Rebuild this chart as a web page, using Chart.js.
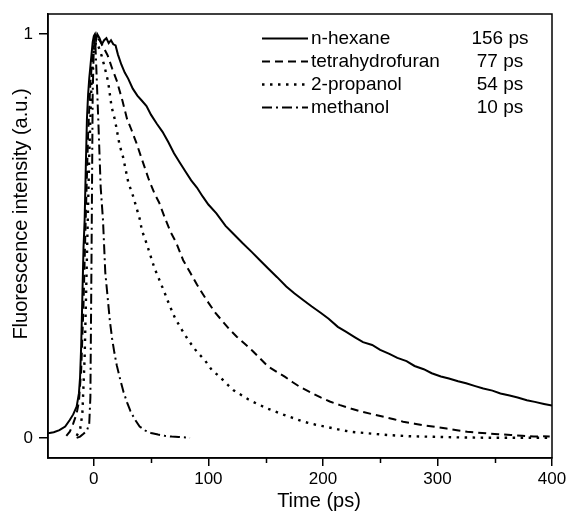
<!DOCTYPE html>
<html>
<head>
<meta charset="utf-8">
<script src="https://cdn.jsdelivr.net/npm/chart.js@4.4.1/dist/chart.umd.min.js"></script>
<style>
  html, body { margin: 0; padding: 0; background: #fff; }
  #wrap { width: 567px; height: 511px; }
</style>
</head>
<body>
<div id="wrap"><canvas id="chart" width="567" height="511"></canvas></div>
<script>
// Series values (time in ps, normalised intensity)
const hexaneT = [-40, -35, -30, -25, -21, -18, -15, -13, -12, -11, -10, -9, -8, -7, -6, -5, -4, -3, -2, -1, 0, 1, 2, 3, 5, 7, 9, 11, 13, 15, 17, 19, 21, 24, 27, 30, 34, 38, 42, 46, 50, 55, 60, 65, 70, 75, 80, 85, 90, 95, 100, 107, 115, 122, 130, 138, 145, 152, 160, 168, 175, 183, 190, 198, 205, 213, 220, 228, 235, 243, 250, 258, 265, 273, 280, 288, 295, 303, 310, 318, 325, 333, 340, 348, 355, 363, 370, 378, 385, 393, 400];
const hexaneI = [0.011, 0.014, 0.019, 0.028, 0.044, 0.058, 0.077, 0.11, 0.15, 0.23, 0.35, 0.47, 0.54, 0.67, 0.79, 0.85, 0.89, 0.92, 0.95, 0.98, 0.995, 1.0, 0.985, 1.0, 0.99, 0.975, 0.985, 0.99, 0.978, 0.985, 0.975, 0.972, 0.95, 0.925, 0.905, 0.89, 0.865, 0.848, 0.835, 0.822, 0.8, 0.778, 0.758, 0.733, 0.705, 0.682, 0.66, 0.638, 0.62, 0.598, 0.578, 0.556, 0.525, 0.505, 0.482, 0.46, 0.44, 0.42, 0.398, 0.375, 0.358, 0.341, 0.326, 0.31, 0.295, 0.275, 0.263, 0.249, 0.237, 0.23, 0.218, 0.208, 0.198, 0.19, 0.178, 0.17, 0.16, 0.152, 0.147, 0.14, 0.135, 0.128, 0.122, 0.117, 0.11, 0.105, 0.1, 0.093, 0.089, 0.084, 0.08];

const thfT = [-24, -21, -18, -15, -13, -11, -9, -7, -5, -3, -1, 1, 3, 5, 8, 12, 16, 20, 25, 29, 33, 37, 42, 48, 53, 57, 62, 67, 72, 78, 84, 90, 95, 100, 106, 112, 118, 125, 131, 138, 145, 152, 160, 167, 174, 180, 189, 198, 206, 215, 225, 235, 244, 253, 262, 270, 280, 288, 298, 308, 317, 326, 335, 343, 353, 364, 374, 384, 392, 398];
const thfI = [0.005, 0.015, 0.035, 0.06, 0.09, 0.17, 0.33, 0.55, 0.75, 0.88, 0.95, 0.985, 0.99, 0.985, 0.97, 0.948, 0.915, 0.885, 0.835, 0.79, 0.762, 0.732, 0.69, 0.64, 0.605, 0.583, 0.545, 0.51, 0.483, 0.44, 0.41, 0.38, 0.357, 0.335, 0.31, 0.29, 0.27, 0.25, 0.235, 0.217, 0.197, 0.177, 0.163, 0.151, 0.137, 0.126, 0.113, 0.1, 0.09, 0.081, 0.072, 0.064, 0.058, 0.052, 0.046, 0.04, 0.035, 0.031, 0.027, 0.023, 0.019, 0.015, 0.013, 0.011, 0.009, 0.007, 0.005, 0.003, 0.004, 0.003];

const propanolT = [-15, -12, -10, -8, -6, -4, -2, 0, 2, 4, 7, 10, 12.5, 15.5, 18.5, 22.5, 25.5, 30, 34.5, 40, 42, 46, 53, 58, 62, 66, 71, 77, 82.5, 90, 97, 103, 110, 117, 122, 135, 142, 152, 163, 173, 183, 193, 203, 213, 224, 240, 256, 275, 297, 320, 350, 380, 400];
const propanolI = [0.005, 0.02, 0.06, 0.2, 0.45, 0.7, 0.88, 0.96, 0.98, 0.97, 0.945, 0.912, 0.882, 0.82, 0.787, 0.725, 0.696, 0.634, 0.597, 0.543, 0.514, 0.482, 0.42, 0.386, 0.358, 0.329, 0.296, 0.267, 0.242, 0.213, 0.192, 0.168, 0.151, 0.131, 0.118, 0.095, 0.085, 0.072, 0.06, 0.05, 0.04, 0.033, 0.027, 0.021, 0.015, 0.011, 0.007, 0.004, 0.0025, 0.001, 0.0, 0.0, 0.0];

const methanolT = [-15, -12, -9, -6, -4, -3, -2, -1, 0, 1, 2, 4, 6, 8, 10, 12, 14, 16, 18, 20, 23, 26, 29, 32, 36, 40, 45, 50, 56, 62, 68, 74, 80, 84];
const methanolI = [0.0, 0.003, 0.01, 0.018, 0.035, 0.1, 0.45, 0.85, 0.97, 1.0, 0.93, 0.78, 0.62, 0.54, 0.41, 0.35, 0.29, 0.245, 0.21, 0.18, 0.145, 0.113, 0.088, 0.066, 0.045, 0.028, 0.018, 0.012, 0.008, 0.005, 0.003, 0.002, 0.001, 0.0];

const solventNames = ['n-hexane', 'tetrahydrofuran', '2-propanol', 'methanol'];
const lifetimes = ['156 ps', '77 ps', '54 ps', '10 ps'];
const xTicks = [0, 100, 200, 300, 400];
const xMinorTicks = [50, 150, 250, 350];
const yTicks = [0, 1];

const dashes = [[], [8, 5], [2.5, 5.5], [10, 4, 2, 4]];
const widths = [2, 2, 2.4, 2];
const FONT = '"Liberation Sans", Arial, sans-serif';

function toPoints(ts, vals) {
  return ts.map((t, i) => ({ x: t, y: vals[i] }));
}

const seriesT = [hexaneT, thfT, propanolT, methanolT];
const seriesI = [hexaneI, thfI, propanolI, methanolI];

const datasets = solventNames.map((name, i) => ({
  label: name,
  data: toPoints(seriesT[i], seriesI[i]),
  borderColor: '#000',
  borderWidth: widths[i],
  borderDash: dashes[i],
  pointRadius: 0,
  tension: 0,
  fill: false
}));

// frame, minor ticks, axis titles and the legend block
const decorPlugin = {
  id: 'decor',
  afterDraw(chart) {
    const ctx = chart.ctx;
    const area = chart.chartArea;
    const xs = chart.scales.x;
    ctx.save();
    ctx.strokeStyle = '#000';
    ctx.lineWidth = 1.5;
    ctx.setLineDash([]);
    ctx.strokeRect(area.left, area.top, area.right - area.left, area.bottom - area.top);

    // minor ticks on the time axis
    ctx.beginPath();
    xMinorTicks.forEach(v => {
      const px = Math.round(xs.getPixelForValue(v)) + 0.5;
      ctx.moveTo(px, area.bottom);
      ctx.lineTo(px, area.bottom + 5);
    });
    ctx.stroke();

    // axis titles
    ctx.fillStyle = '#000';
    ctx.font = '20px ' + FONT;
    ctx.textAlign = 'center';
    ctx.textBaseline = 'alphabetic';
    ctx.fillText('Time (ps)', 319, 507);
    ctx.save();
    ctx.translate(27, 214);
    ctx.rotate(-Math.PI / 2);
    ctx.fillText('Fluorescence intensity (a.u.)', 0, 0);
    ctx.restore();

    // legend
    ctx.font = '19px ' + FONT;
    ctx.textBaseline = 'middle';
    solventNames.forEach((name, i) => {
      const y = 38.5 + i * 23;
      ctx.lineWidth = widths[i];
      ctx.setLineDash(dashes[i]);
      ctx.beginPath();
      ctx.moveTo(262, y);
      ctx.lineTo(308, y);
      ctx.stroke();
      ctx.setLineDash([]);
      ctx.textAlign = 'left';
      ctx.fillText(name, 311, y);
      ctx.textAlign = 'center';
      ctx.fillText(lifetimes[i], 500, y);
    });
    ctx.restore();
  }
};

new Chart(document.getElementById('chart'), {
  type: 'line',
  data: { datasets },
  options: {
    responsive: false,
    animation: false,
    layout: { padding: { top: 14, right: 15, left: 0, bottom: 0 } },
    plugins: { legend: { display: false }, tooltip: { enabled: false } },
    scales: {
      x: {
        type: 'linear',
        min: -40,
        max: 400,
        afterBuildTicks: scale => { scale.ticks = xTicks.map(v => ({ value: v })); },
        afterFit: scale => {
          scale.height = 53;
          scale.paddingLeft = 0;
          scale.paddingRight = 0;
        },
        ticks: {
          color: '#000',
          font: { family: FONT, size: 17 },
          padding: 3,
          maxRotation: 0
        },
        grid: { drawOnChartArea: false, drawTicks: true, tickLength: 8, color: '#000', lineWidth: 1.5 },
        border: { display: true, color: '#000', width: 1.5 }
      },
      y: {
        min: -0.05,
        max: 1.05,
        afterBuildTicks: scale => { scale.ticks = yTicks.map(v => ({ value: v })); },
        afterFit: scale => {
          scale.width = 48;
          scale.paddingTop = 0;
          scale.paddingBottom = 0;
        },
        ticks: {
          color: '#000',
          font: { family: FONT, size: 17 },
          padding: 6
        },
        grid: { drawOnChartArea: false, drawTicks: true, tickLength: 9, color: '#000', lineWidth: 1.5 },
        border: { display: true, color: '#000', width: 1.5 }
      }
    }
  },
  plugins: [decorPlugin]
});
</script>
</body>
</html>
